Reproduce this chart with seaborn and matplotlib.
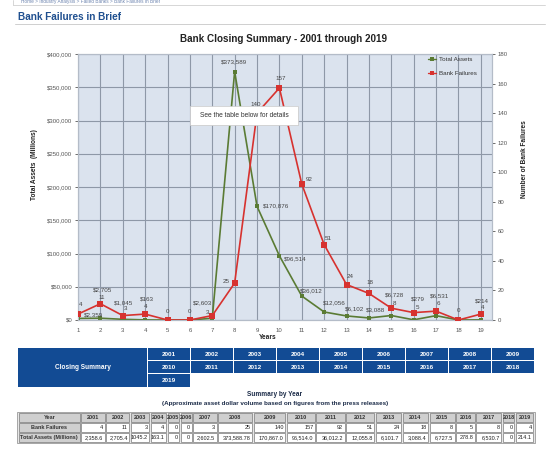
import matplotlib
matplotlib.use("Agg")
import numpy as np
import pandas as pd
import seaborn as sns
import matplotlib.pyplot as plt
from matplotlib.patches import Rectangle
from matplotlib.lines import Line2D

# ---------------- data ----------------
year_index = list(range(1, 20))
years = list(range(2001, 2020))
bank_failures = [4, 11, 3, 4, 0, 0, 3, 25, 140, 157, 92, 51, 24, 18, 8, 5, 6, 0, 4]
total_assets = [2359, 2705, 1045, 163, 0, 0, 2603, 373589, 170876, 96514, 36012,
                12056, 6102, 3088, 6728, 279, 6531, 0, 214]
table_failures = ["4", "11", "3", "4", "0", "0", "3", "25", "140", "157", "92", "51",
                  "24", "18", "8", "5", "8", "0", "4"]
table_assets = ["2,358.6", "2,705.4", "1045.2", "163.1", "0", "0", "2,602.5", "373,588.78",
                "170,867.0", "96,514.0", "36,012.2", "12,055.8", "6,101.7", "3,088.4",
                "6,727.5", "278.8", "6,530.7", "0", "214.1"]
left_ticks = [0, 50000, 100000, 150000, 200000, 250000, 300000, 350000, 400000]
right_ticks = [0, 20, 40, 60, 80, 100, 120, 140, 160, 180]

# ---------------- style ----------------
sns.set_style("white")
plt.rcParams['font.family'] = ['Liberation Sans', 'DejaVu Sans']

GREEN = "#5a7b34"
RED = "#d7322f"
GRID = "#8e98a7"
TXT = "#444444"

W, H = 550, 467
fig = plt.figure(figsize=(W / 100, H / 100), dpi=100)
fig.patch.set_facecolor("white")

L, R, T, B = 78, 492, 54, 320
ax = fig.add_axes([L / W, 1 - B / H, (R - L) / W, (B - T) / H])
ax.set_facecolor("#dbe3ee")
ax2 = ax.twinx()

df = pd.DataFrame({"idx": year_index, "assets": total_assets, "failures": bank_failures})

sns.lineplot(data=df, x="idx", y="assets", ax=ax, color=GREEN, marker="s",
             markersize=3.2, markeredgewidth=0, linewidth=1.2, legend=False, zorder=3)
sns.lineplot(data=df, x="idx", y="failures", ax=ax2, color=RED, marker="s",
             markersize=4.2, markeredgewidth=0, linewidth=1.2, legend=False, zorder=3)

ax.set_xlim(1, 19.5)
ax.set_ylim(0, 400000)
ax2.set_ylim(0, 180)
ax.set_xticks(year_index)
ax.set_xticklabels([str(i) for i in year_index])
ax.set_yticks(left_ticks)
ax.set_yticklabels(["$" + format(v, ",") for v in left_ticks])
ax2.set_yticks(right_ticks)
ax2.set_yticklabels([str(v) for v in right_ticks])

ax.grid(True, color=GRID, linewidth=0.8)
ax.set_axisbelow(True)
ax2.grid(False)
for a in (ax, ax2):
    for s in a.spines.values():
        s.set_color("#b4bcc8")
        s.set_linewidth(0.8)
ax.tick_params(axis="both", labelsize=4.3, colors="#555555", length=2, width=0.6, pad=2)
ax.tick_params(axis="x", pad=3.5)
ax2.tick_params(axis="y", labelsize=4.3, colors="#555555", length=2, width=0.6, pad=2)
ax.set_xlabel("")
ax.set_ylabel("")
ax2.set_ylabel("")

# data labels
asset_off = {1: (15, 4), 2: (2, 28), 3: (1, 17), 4: (2, 21), 7: (-10, 15), 8: (-1, 9.5),
             9: (19, 1), 10: (16, -3), 11: (9, 5), 12: (10, 9), 13: (8, 7), 14: (7, 8),
             15: (3, 21), 16: (4.5, 21), 17: (3, 20), 19: (1.5, 19)}
fail_off = {1: (3, 10), 2: (1.6, 6), 3: (3, 7), 4: (0, 8), 5: (0, 8), 6: (0, 8), 7: (-5, 3.5),
            8: (-8, 2), 9: (-1, 9), 10: (1.6, 9), 11: (7, 5), 12: (4, 6), 13: (4, 8),
            14: (1, 11), 15: (3, 5), 16: (4, 5), 17: (2, 8), 18: (0, 9), 19: (2, 7)}
for x, v in zip(year_index, total_assets):
    if v > 0:
        dx, dy = asset_off.get(x, (0, 8))
        ax.annotate("$" + format(v, ","), (x, v), xytext=(dx, dy), textcoords="offset pixels",
                    ha="center", va="center", fontsize=4.5, color=TXT, zorder=5)
for x, v in zip(year_index, bank_failures):
    dx, dy = fail_off.get(x, (0, 8))
    ax2.annotate(str(v), (x, v), xytext=(dx, dy), textcoords="offset pixels",
                 ha="center", va="center", fontsize=4.5, color=TXT, zorder=5)

# legend
handles = [Line2D([], [], color=GREEN, marker="s", markersize=2.5, linewidth=1.0, markeredgewidth=0),
           Line2D([], [], color=RED, marker="s", markersize=3.2, linewidth=1.0, markeredgewidth=0)]
ax2.legend(handles, ["Total Assets", "Bank Failures"], loc="upper left",
           bbox_to_anchor=(428 / W, 1 - 57 / H), bbox_transform=fig.transFigure,
           frameon=False, fontsize=4.5, handlelength=1.3, handletextpad=0.4,
           labelspacing=1.3, borderpad=0, borderaxespad=0, labelcolor="#333333")

# ---------------- page overlay ----------------
pg = fig.add_axes([0, 0, 1, 1], zorder=10)
pg.set_xlim(0, W)
pg.set_ylim(H, 0)
pg.axis("off")
pg.patch.set_alpha(0)

# breadcrumb / header
pg.plot([13, 545], [4.8, 4.8], color="#d0d0d0", lw=0.6)
pg.plot([13, 13], [0, 4.8], color="#d0d0d0", lw=0.6)
pg.text(21, 2.0, "Home > Industry Analysis > Failed Banks > Bank Failures in Brief",
        fontsize=3.4, color="#6f86b0", va="center", ha="left")
pg.text(18, 17, "Bank Failures in Brief", fontsize=7.2, fontweight="bold",
        color="#1f4f8f", va="center", ha="left")
pg.plot([15, 545], [24, 24], color="#cfcfcf", lw=0.7)

# chart title and axis labels
pg.text(283, 38.5, "Bank Closing Summary - 2001 through 2019", fontsize=7.1,
        fontweight="bold", color="#222222", ha="center", va="center")
pg.text(34, 165, "Total Assets  (Millions)", fontsize=4.7, fontweight="bold",
        color="#222222", rotation=90, ha="center", va="center")
pg.text(524, 159, "Number of Bank Failures", fontsize=4.7, fontweight="bold",
        color="#222222", rotation=90, ha="center", va="center")
pg.text(268, 337.5, "Years", fontsize=4.7, fontweight="bold", color="#222222",
        ha="center", va="center")

# tooltip
pg.add_patch(Rectangle((191, 107), 108, 19, facecolor="#9a9a9a", alpha=0.35, lw=0))
pg.add_patch(Rectangle((190, 106), 108, 19, facecolor="white", edgecolor="#cccccc", lw=0.5))
pg.text(244, 115.5, "See the table below for details", fontsize=4.8, color="#333333",
        ha="center", va="center")

# blue closing summary table
BLUE = "#124b94"
pg.add_patch(Rectangle((18, 348), 129, 39, facecolor=BLUE, lw=0))
pg.text(82.5, 367.5, "Closing Summary", fontsize=4.7, fontweight="bold", color="white",
        ha="center", va="center")
for i, yr in enumerate(years):
    r, c = divmod(i, 9)
    x0 = 148 + c * 43.0
    y0 = 348 + r * 13.1
    pg.add_patch(Rectangle((x0, y0), 42, 12.3, facecolor=BLUE, lw=0))
    pg.text(x0 + 21, y0 + 6.4, str(yr), fontsize=4.6, fontweight="bold", color="white",
            ha="center", va="center")

# summary text
NAVY = "#1b2b48"
pg.text(275, 394.5, "Summary by Year", fontsize=4.7, fontweight="bold", color=NAVY,
        ha="center", va="center")
pg.text(275, 403.5, "(Approximate asset dollar volume based on figures from the press releases)",
        fontsize=4.5, fontweight="bold", color=NAVY, ha="center", va="center")

# data table
col_w = [63, 25, 25, 20, 17, 13, 13, 25, 36, 33, 30, 30, 30, 27, 27, 27, 20, 27, 13, 19]
scale = (534 - 18) / sum(col_w)
bounds = [18.0]
for w in col_w:
    bounds.append(bounds[-1] + w * scale)
rows_y = [413, 423, 433]
row_h = 9.6
pg.add_patch(Rectangle((17, 411.8), 518, 31.6, facecolor="#e6e6e6", edgecolor="#9a9a9a", lw=0.6))
header = ["Year"] + [str(y) for y in years]
row1 = ["Bank Failures"] + table_failures
row2 = ["Total Assets (Millions)"] + table_assets
for ri, (row, y0) in enumerate(zip([header, row1, row2], rows_y)):
    for ci in range(len(bounds) - 1):
        x0, x1 = bounds[ci] + 0.8, bounds[ci + 1] - 0.8
        gray = ri == 0 or ci == 0
        pg.add_patch(Rectangle((x0, y0), x1 - x0, row_h - 0.8,
                               facecolor="#cfcfcf" if gray else "white",
                               edgecolor="#7a7a7a", lw=0.5))
        if gray:
            pg.text((x0 + x1) / 2, y0 + row_h / 2 - 0.3, row[ci], fontsize=4.0,
                    fontweight="bold", color="#333333", ha="center", va="center")
        else:
            pg.text(x1 - 1.5, y0 + row_h / 2 - 0.3, row[ci], fontsize=4.0,
                    color="#222222", ha="right", va="center")

fig.savefig("out.png", dpi=100, facecolor="white")
